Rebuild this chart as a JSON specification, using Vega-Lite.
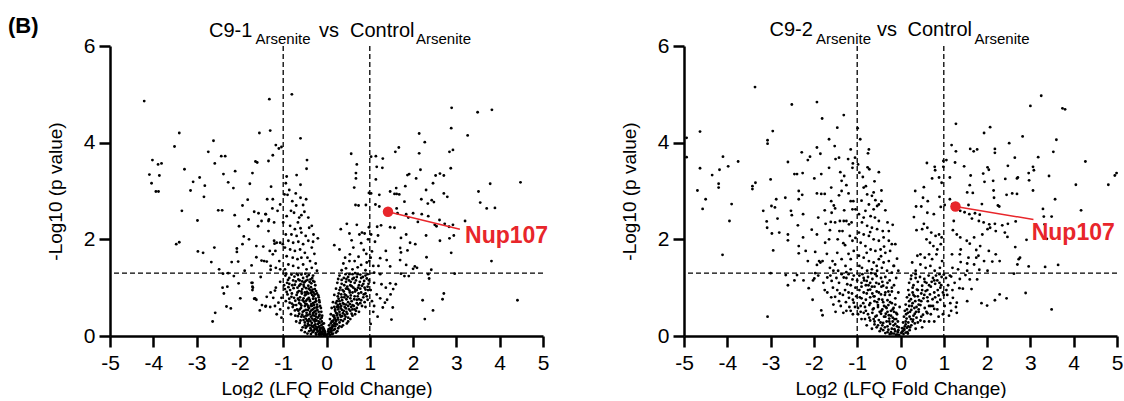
{
"$schema": "https://vega.github.io/schema/vega-lite/v6.json",
"padding": {"left": 8, "top": 14, "right": 0, "bottom": 0},
"background": "white",
"config": {
  "font": "Liberation Sans",
  "view": {"stroke": null},
  "axis": {"grid": false, "domainColor": "black", "domainWidth": 2.5, "tickColor": "black", "tickWidth": 2.5, "tickSize": 11, "labelColor": "black", "titleColor": "black", "labelFont": "Liberation Sans", "titleFont": "Liberation Sans", "labelFontSize": 21, "titleFontSize": 19, "titleFontWeight": "normal", "labelOverlap": false, "labelFlush": false},
  "axisX": {"labelPadding": 5, "titlePadding": 6},
  "axisY": {"labelPadding": 4, "titlePadding": 18}
},
"datasets": {
"hl1": [{"gene": "Nup107", "x": 1.42, "y": 2.57}],
"hl2": [{"gene": "Nup107", "x": 1.27, "y": 2.68}],
"c91": [
{"x":-4.21,"y":4.86},{"x":-1.32,"y":4.9},{"x":-0.8,"y":5.0},{"x":-3.4,"y":4.2},{"x":-1.3,"y":4.25},{"x":-1.55,"y":4.2},{"x":-0.6,"y":4.09},{"x":-3.51,"y":3.92},{"x":-2.61,"y":4.04},{"x":-2.73,"y":3.81},{"x":-1.17,"y":3.95},{"x":-1.1,"y":3.88},{"x":-1.04,"y":3.91},{"x":-1.24,"y":3.74},{"x":-4.02,"y":3.64},{"x":-3.89,"y":3.55},{"x":-3.81,"y":3.57},{"x":-4.09,"y":3.34},{"x":-3.86,"y":3.32},{"x":-4.04,"y":3.16},{"x":-3.94,"y":2.99},{"x":-3.88,"y":2.99},{"x":-3.28,"y":3.45},{"x":-2.43,"y":3.72},{"x":-2.34,"y":3.72},{"x":-2.58,"y":3.57},{"x":-2.38,"y":3.35},{"x":-2.93,"y":3.28},{"x":-3.08,"y":3.19},{"x":-2.81,"y":3.11},{"x":-3.14,"y":3.01},{"x":-2.83,"y":2.88},{"x":-2.27,"y":3.18},{"x":-2.15,"y":3.06},{"x":-2.11,"y":3.41},{"x":-1.64,"y":3.61},{"x":-1.6,"y":3.59},{"x":-1.34,"y":3.62},{"x":-1.71,"y":3.37},{"x":-1.77,"y":3.15},{"x":-1.28,"y":3.09},{"x":-0.69,"y":3.33},{"x":-0.46,"y":3.46},{"x":-0.45,"y":3.64},{"x":-0.6,"y":3.13},{"x":-0.94,"y":3.16},{"x":-3.34,"y":2.59},{"x":-2.5,"y":2.6},{"x":-2.41,"y":2.6},{"x":-2.98,"y":2.39},{"x":-3.47,"y":1.9},{"x":-3.4,"y":1.94},{"x":-2.97,"y":1.75},{"x":-2.85,"y":1.72},{"x":-2.66,"y":1.53},{"x":-2.59,"y":1.83},{"x":-2.12,"y":2.5},{"x":-1.94,"y":2.7},{"x":-1.82,"y":2.82},{"x":-2.02,"y":2.27},{"x":-1.91,"y":2.06},{"x":-1.8,"y":2.41},{"x":-1.79,"y":2.0},{"x":-1.67,"y":2.57},{"x":-1.57,"y":2.54},{"x":-1.4,"y":2.52},{"x":-1.34,"y":2.38},{"x":-1.58,"y":2.27},{"x":-1.34,"y":2.17},{"x":-1.62,"y":1.86},{"x":-1.46,"y":1.85},{"x":-2.07,"y":1.81},{"x":-2.07,"y":1.74},{"x":-1.94,"y":1.9},{"x":-2.19,"y":1.53},{"x":-2.04,"y":1.54},{"x":-1.89,"y":1.35},{"x":-1.73,"y":1.46},{"x":-1.62,"y":1.63},{"x":-1.5,"y":1.56},{"x":-1.52,"y":1.22},{"x":-2.48,"y":1.38},{"x":-2.39,"y":1.29},{"x":-2.27,"y":1.3},{"x":-2.14,"y":1.24},{"x":-2.4,"y":1.0},{"x":-2.37,"y":0.88},{"x":-2.29,"y":1.02},{"x":-2.03,"y":1.09},{"x":-1.71,"y":1.1},{"x":-1.71,"y":1.02},{"x":-1.71,"y":0.95},{"x":-1.99,"y":0.78},{"x":-1.67,"y":0.77},{"x":-1.62,"y":0.75},{"x":-2.31,"y":0.61},{"x":-2.21,"y":0.57},{"x":-2.57,"y":0.48},{"x":-2.63,"y":0.3},{"x":-1.54,"y":0.53},{"x":-1.41,"y":0.61},{"x":-1.3,"y":0.6},{"x":-1.38,"y":0.81},{"x":-1.19,"y":0.94},{"x":-1.24,"y":1.69},{"x":-1.2,"y":1.91},{"x":-1.15,"y":1.93},{"x":-1.07,"y":1.93},{"x":-1.01,"y":1.9},{"x":-1.29,"y":1.37},{"x":-1.38,"y":1.54},
{"x":-1.37,"y":2.83},{"x":-1.24,"y":2.83},{"x":-1.07,"y":2.72},{"x":-1.25,"y":2.64},{"x":-1.13,"y":2.59},{"x":-1.41,"y":2.52},{"x":-1.33,"y":2.41},{"x":-1.21,"y":2.35},{"x":-1.5,"y":2.38},{"x":-1.21,"y":1.97},{"x":-1.31,"y":1.76},{"x":-1.18,"y":1.76},{"x":-1.09,"y":1.55},{"x":-1.44,"y":1.55},{"x":-1.29,"y":1.45},{"x":-1.17,"y":1.41},{"x":-1.07,"y":1.38},{"x":-1.07,"y":1.12},{"x":-1.17,"y":1.0},{"x":-1.29,"y":0.9},{"x":-1.23,"y":0.79},{"x":-1.11,"y":0.69},{"x":-1.04,"y":0.79},{"x":-1.19,"y":0.62},{"x":-1.07,"y":0.55},{"x":-1.15,"y":0.45},{"x":-1.04,"y":0.38},{"x":-1.49,"y":0.64},{"x":-1.4,"y":0.62},{"x":-1.65,"y":0.78},{"x":-1.7,"y":1.0},{"x":-1.73,"y":1.1},
{"x":-0.97,"y":2.93},{"x":-0.9,"y":2.92},{"x":-0.79,"y":2.79},{"x":-0.71,"y":2.95},{"x":-0.6,"y":2.86},{"x":-0.47,"y":2.83},{"x":-0.54,"y":2.71},{"x":-0.51,"y":2.57},{"x":-0.82,"y":2.59},{"x":-0.75,"y":2.55},{"x":-0.92,"y":2.48},{"x":-0.63,"y":2.45},{"x":-0.42,"y":2.45},{"x":-1.0,"y":2.35},{"x":-0.84,"y":2.28},{"x":-0.73,"y":2.21},{"x":-0.6,"y":2.23},{"x":-0.4,"y":2.24},{"x":-0.34,"y":2.28},{"x":-0.94,"y":2.1},{"x":-0.81,"y":2.1},{"x":-0.69,"y":2.07},{"x":-0.58,"y":2.14},{"x":-0.48,"y":2.07},{"x":-0.3,"y":2.1},{"x":-0.88,"y":1.97},{"x":-0.77,"y":1.93},{"x":-0.65,"y":1.95},{"x":-0.54,"y":1.9},{"x":-0.42,"y":1.97},{"x":-0.34,"y":1.83},{"x":-0.96,"y":1.83},{"x":-0.84,"y":1.79},{"x":-0.73,"y":1.76},{"x":-0.61,"y":1.79},{"x":-0.5,"y":1.72},{"x":-0.44,"y":1.62},{"x":-0.92,"y":1.65},{"x":-0.78,"y":1.62},{"x":-0.67,"y":1.59},{"x":-0.58,"y":1.62},{"x":-0.38,"y":1.55},{"x":-0.88,"y":1.48},{"x":-0.77,"y":1.45},{"x":-0.65,"y":1.41},{"x":-0.54,"y":1.48},{"x":-0.46,"y":1.38},{"x":-0.34,"y":1.41},{"x":-0.96,"y":1.38},{"x":-0.92,"y":3.3},{"x":-0.86,"y":3.02},{"x":-0.7,"y":2.7},{"x":-0.58,"y":2.5},{"x":-0.66,"y":2.35},{"x":-0.28,"y":1.7},{"x":-0.25,"y":1.5},{"x":-0.22,"y":1.35},{"x":-0.31,"y":1.95},{"x":-0.2,"y":2.02},
{"x":-0.95,"y":1.25},{"x":-0.86,"y":1.2},{"x":-0.74,"y":1.23},{"x":-0.66,"y":1.26},{"x":-0.54,"y":1.2},{"x":-0.45,"y":1.23},{"x":-0.37,"y":1.17},{"x":-0.91,"y":1.1},{"x":-0.79,"y":1.05},{"x":-0.71,"y":1.13},{"x":-0.6,"y":1.07},{"x":-0.51,"y":1.11},{"x":-0.42,"y":1.04},{"x":-0.35,"y":1.09},{"x":-0.96,"y":0.97},{"x":-0.84,"y":0.95},{"x":-0.76,"y":0.99},{"x":-0.64,"y":0.93},{"x":-0.56,"y":0.97},{"x":-0.45,"y":0.91},{"x":-0.38,"y":0.95},{"x":-0.3,"y":0.9},{"x":-0.9,"y":0.86},{"x":-0.81,"y":0.81},{"x":-0.69,"y":0.85},{"x":-0.61,"y":0.8},{"x":-0.5,"y":0.84},{"x":-0.41,"y":0.79},{"x":-0.33,"y":0.85},{"x":-0.25,"y":0.77},{"x":-0.94,"y":0.72},{"x":-0.85,"y":0.69},{"x":-0.72,"y":0.73},{"x":-0.63,"y":0.68},{"x":-0.52,"y":0.71},{"x":-0.46,"y":0.66},{"x":-0.38,"y":0.72},{"x":-0.31,"y":0.68},{"x":-0.22,"y":0.65},{"x":-0.88,"y":0.58},{"x":-0.78,"y":0.6},{"x":-0.68,"y":0.55},{"x":-0.59,"y":0.58},{"x":-0.48,"y":0.54},{"x":-0.4,"y":0.58},{"x":-0.32,"y":0.55},{"x":-0.25,"y":0.52},{"x":-0.18,"y":0.5},{"x":-0.82,"y":0.45},{"x":-0.72,"y":0.42},{"x":-0.63,"y":0.46},{"x":-0.52,"y":0.4},{"x":-0.44,"y":0.43},{"x":-0.36,"y":0.4},{"x":-0.28,"y":0.42},{"x":-0.2,"y":0.38},{"x":-0.14,"y":0.35},{"x":-0.7,"y":0.3},{"x":-0.6,"y":0.32},{"x":-0.5,"y":0.28},{"x":-0.42,"y":0.3},{"x":-0.34,"y":0.27},{"x":-0.27,"y":0.3},{"x":-0.2,"y":0.25},{"x":-0.12,"y":0.22},{"x":-0.08,"y":0.18},{"x":-0.55,"y":0.18},{"x":-0.45,"y":0.2},{"x":-0.37,"y":0.16},{"x":-0.3,"y":0.18},{"x":-0.22,"y":0.14},{"x":-0.15,"y":0.12},{"x":-0.1,"y":0.08},{"x":-0.05,"y":0.05},{"x":-0.4,"y":0.1},{"x":-0.32,"y":0.08},{"x":-0.25,"y":0.06},{"x":-0.18,"y":0.04},{"x":-0.12,"y":0.03},{"x":-0.06,"y":0.02},
{"x":-0.62,"y":1.15},{"x":-0.48,"y":1.14},{"x":-0.33,"y":1.2},{"x":-0.28,"y":1.12},{"x":-0.86,"y":1.08},{"x":-0.67,"y":1.0},{"x":-0.52,"y":1.02},{"x":-0.41,"y":0.98},{"x":-0.27,"y":0.97},{"x":-0.22,"y":0.88},{"x":-0.57,"y":0.88},{"x":-0.47,"y":0.86},{"x":-0.36,"y":0.89},{"x":-0.3,"y":0.82},{"x":-0.18,"y":0.8},{"x":-0.66,"y":0.77},{"x":-0.55,"y":0.74},{"x":-0.44,"y":0.76},{"x":-0.35,"y":0.66},{"x":-0.27,"y":0.7},{"x":-0.16,"y":0.7},{"x":-0.76,"y":0.64},{"x":-0.58,"y":0.63},{"x":-0.5,"y":0.62},{"x":-0.42,"y":0.6},{"x":-0.34,"y":0.62},{"x":-0.28,"y":0.58},{"x":-0.21,"y":0.6},{"x":-0.13,"y":0.58},{"x":-0.65,"y":0.52},{"x":-0.55,"y":0.5},{"x":-0.46,"y":0.48},{"x":-0.38,"y":0.5},{"x":-0.31,"y":0.47},{"x":-0.24,"y":0.46},{"x":-0.16,"y":0.44},{"x":-0.1,"y":0.42},{"x":-0.58,"y":0.4},{"x":-0.48,"y":0.36},{"x":-0.4,"y":0.35},{"x":-0.33,"y":0.36},{"x":-0.26,"y":0.35},{"x":-0.18,"y":0.3},{"x":-0.11,"y":0.3},{"x":-0.06,"y":0.26},{"x":-0.5,"y":0.22},{"x":-0.43,"y":0.25},{"x":-0.35,"y":0.22},{"x":-0.28,"y":0.22},{"x":-0.24,"y":0.19},{"x":-0.17,"y":0.2},{"x":-0.14,"y":0.16},{"x":-0.08,"y":0.13},{"x":-0.04,"y":0.1},{"x":-0.44,"y":0.05},{"x":-0.36,"y":0.04},{"x":-0.29,"y":0.11},{"x":-0.2,"y":0.09},{"x":-0.15,"y":0.06},{"x":-0.09,"y":0.05},{"x":-0.02,"y":0.01},
{"x":-0.93,"y":1.29},{"x":-0.81,"y":1.27},{"x":-0.69,"y":1.29},{"x":-0.58,"y":1.27},{"x":-0.49,"y":1.29},{"x":-0.41,"y":1.26},{"x":-0.31,"y":1.25},{"x":-0.89,"y":1.16},{"x":-0.77,"y":1.15},{"x":-0.65,"y":1.17},{"x":-0.56,"y":1.13},{"x":-0.44,"y":1.16},{"x":-0.39,"y":1.12},{"x":-0.31,"y":1.14},{"x":-0.26,"y":1.05},{"x":-0.98,"y":1.05},{"x":-0.88,"y":1.01},{"x":-0.73,"y":1.06},{"x":-0.63,"y":1.04},{"x":-0.53,"y":1.06},{"x":-0.47,"y":0.99},{"x":-0.36,"y":1.01},{"x":-0.32,"y":0.96},{"x":-0.24,"y":0.93},{"x":-0.92,"y":0.91},{"x":-0.8,"y":0.88},{"x":-0.67,"y":0.9},{"x":-0.58,"y":0.92},{"x":-0.5,"y":0.9},{"x":-0.42,"y":0.88},{"x":-0.34,"y":0.92},{"x":-0.27,"y":0.86},{"x":-0.19,"y":0.84},{"x":-0.86,"y":0.77},{"x":-0.75,"y":0.79},{"x":-0.63,"y":0.74},{"x":-0.53,"y":0.78},{"x":-0.47,"y":0.73},{"x":-0.39,"y":0.75},{"x":-0.31,"y":0.77},{"x":-0.24,"y":0.72},{"x":-0.17,"y":0.74},{"x":-0.8,"y":0.67},{"x":-0.7,"y":0.64},{"x":-0.6,"y":0.66},{"x":-0.49,"y":0.67},{"x":-0.43,"y":0.63},{"x":-0.36,"y":0.63},{"x":-0.29,"y":0.64},{"x":-0.23,"y":0.59},{"x":-0.15,"y":0.62},{"x":-0.73,"y":0.53},{"x":-0.62,"y":0.55},{"x":-0.52,"y":0.52},{"x":-0.43,"y":0.54},{"x":-0.35,"y":0.53},{"x":-0.28,"y":0.5},{"x":-0.21,"y":0.54},{"x":-0.12,"y":0.5},{"x":-0.66,"y":0.41},{"x":-0.56,"y":0.44},{"x":-0.47,"y":0.42},{"x":-0.39,"y":0.45},{"x":-0.32,"y":0.43},{"x":-0.24,"y":0.4},{"x":-0.17,"y":0.41},{"x":-0.11,"y":0.38},{"x":-0.62,"y":0.27},{"x":-0.53,"y":0.33},{"x":-0.45,"y":0.32},{"x":-0.37,"y":0.31},{"x":-0.3,"y":0.33},{"x":-0.23,"y":0.32},{"x":-0.16,"y":0.27},{"x":-0.09,"y":0.25},{"x":-0.48,"y":0.17},{"x":-0.4,"y":0.22},{"x":-0.33,"y":0.2},{"x":-0.26,"y":0.24},{"x":-0.19,"y":0.18},{"x":-0.12,"y":0.16},{"x":-0.06,"y":0.14},{"x":-0.35,"y":0.12},{"x":-0.27,"y":0.14},{"x":-0.21,"y":0.11},{"x":-0.14,"y":0.09},{"x":-0.08,"y":0.1},{"x":-0.03,"y":0.06},{"x":-0.24,"y":0.03},{"x":-0.16,"y":0.02},{"x":-0.1,"y":0.04},{"x":-0.04,"y":0.03},{"x":-0.5,"y":0.08},{"x":-0.58,"y":0.12},
{"x":2.89,"y":4.72},{"x":3.49,"y":4.63},{"x":3.82,"y":4.68},{"x":2.88,"y":4.3},{"x":3.26,"y":4.15},{"x":2.14,"y":4.19},{"x":2.27,"y":4.01},{"x":1.67,"y":3.9},{"x":1.59,"y":3.81},{"x":2.14,"y":3.78},{"x":2.84,"y":3.81},{"x":2.92,"y":3.85},{"x":1.03,"y":3.71},{"x":1.14,"y":3.72},{"x":1.3,"y":3.67},{"x":1.16,"y":3.5},{"x":1.29,"y":3.48},{"x":2.17,"y":3.44},{"x":2.87,"y":3.47},{"x":1.14,"y":3.24},{"x":1.87,"y":3.33},{"x":1.91,"y":3.35},{"x":2.07,"y":3.26},{"x":2.52,"y":3.32},{"x":2.62,"y":3.36},{"x":2.71,"y":3.32},{"x":1.82,"y":3.1},{"x":1.61,"y":3.06},{"x":1.57,"y":2.94},{"x":1.62,"y":2.94},{"x":1.68,"y":2.93},{"x":1.47,"y":2.99},{"x":1.22,"y":2.92},{"x":1.03,"y":2.95},{"x":2.46,"y":3.16},{"x":2.3,"y":3.02},{"x":2.19,"y":2.83},{"x":2.34,"y":2.74},{"x":2.43,"y":2.81},{"x":2.48,"y":2.77},{"x":2.71,"y":2.95},{"x":2.79,"y":2.88},{"x":3.78,"y":3.15},{"x":4.48,"y":3.18},{"x":3.51,"y":2.99},{"x":3.55,"y":2.76},{"x":3.7,"y":2.64},{"x":3.89,"y":2.65},{"x":1.13,"y":2.72},{"x":1.22,"y":2.68},{"x":1.62,"y":2.64},{"x":1.8,"y":2.78},{"x":1.64,"y":2.54},{"x":1.84,"y":2.52},{"x":1.89,"y":2.45},{"x":2.0,"y":2.54},{"x":2.11,"y":2.36},{"x":2.2,"y":2.52},{"x":2.35,"y":2.48},{"x":2.5,"y":2.3},{"x":2.54,"y":2.27},{"x":2.61,"y":2.4},{"x":2.73,"y":2.32},{"x":2.83,"y":2.26},{"x":2.92,"y":2.3},{"x":3.2,"y":2.38},{"x":2.62,"y":1.97},{"x":2.84,"y":2.02},{"x":2.94,"y":2.08},{"x":2.3,"y":2.08},{"x":2.88,"y":1.72},{"x":3.81,"y":1.55},{"x":1.47,"y":2.25},{"x":1.57,"y":2.24},{"x":1.17,"y":2.26},{"x":1.26,"y":2.29},{"x":1.19,"y":2.08},{"x":1.72,"y":2.03},{"x":1.84,"y":2.1},{"x":1.93,"y":1.93},{"x":2.05,"y":1.9},{"x":1.7,"y":1.82},{"x":1.72,"y":1.73},{"x":1.87,"y":1.77},{"x":1.37,"y":1.76},{"x":1.24,"y":1.61},{"x":1.02,"y":1.62},{"x":1.39,"y":1.57},{"x":1.7,"y":1.57},{"x":2.31,"y":1.63},{"x":1.47,"y":1.44},{"x":1.84,"y":1.47},{"x":2.04,"y":1.44},{"x":2.0,"y":1.39},{"x":2.09,"y":1.41},{"x":1.72,"y":1.29},{"x":1.8,"y":1.24},{"x":1.9,"y":1.24},{"x":2.35,"y":1.28},{"x":2.37,"y":1.19},{"x":2.42,"y":1.37},{"x":2.96,"y":1.29},{"x":1.1,"y":1.31},{"x":1.24,"y":1.28},{"x":1.1,"y":1.1},{"x":1.16,"y":0.86},{"x":1.27,"y":1.07},{"x":1.37,"y":1.0},{"x":1.47,"y":1.09},{"x":1.54,"y":0.97},{"x":1.6,"y":1.07},{"x":1.24,"y":0.78},{"x":1.35,"y":0.69},{"x":1.4,"y":0.75},{"x":1.48,"y":0.86},{"x":1.3,"y":0.59},{"x":1.53,"y":0.59},{"x":1.08,"y":0.5},{"x":1.5,"y":0.34},{"x":2.22,"y":0.74},{"x":2.46,"y":0.53},{"x":2.27,"y":0.35},{"x":2.68,"y":0.76},{"x":2.71,"y":0.88},{"x":4.41,"y":0.74},{"x":1.05,"y":1.75},{"x":1.12,"y":1.95},{"x":1.03,"y":2.1},{"x":1.2,"y":1.45},{"x":1.08,"y":1.45},{"x":1.02,"y":0.95},{"x":1.05,"y":0.72},{"x":1.1,"y":0.62},{"x":1.18,"y":0.4},{"x":1.02,"y":0.25},
{"x":0.57,"y":3.77},{"x":0.7,"y":3.55},{"x":0.68,"y":3.37},{"x":0.68,"y":3.26},{"x":0.64,"y":3.07},{"x":0.67,"y":2.71},{"x":0.74,"y":2.7},{"x":0.91,"y":2.71},{"x":0.98,"y":2.96},{"x":0.47,"y":2.32},{"x":0.7,"y":2.3},{"x":0.33,"y":2.21},{"x":0.53,"y":2.12},{"x":0.82,"y":2.14},{"x":0.88,"y":2.12},{"x":0.76,"y":2.1},{"x":0.18,"y":1.88},{"x":0.3,"y":1.79},{"x":0.58,"y":1.98},{"x":0.62,"y":1.83},{"x":0.8,"y":1.92},{"x":0.86,"y":1.78},{"x":0.43,"y":1.62},{"x":0.54,"y":1.69},{"x":0.53,"y":1.55},{"x":0.65,"y":1.55},{"x":0.74,"y":1.64},{"x":0.39,"y":1.5},{"x":0.8,"y":1.47},{"x":0.93,"y":1.52},{"x":0.99,"y":1.55},{"x":0.45,"y":1.4},{"x":0.6,"y":1.38},{"x":0.72,"y":1.42},{"x":0.9,"y":1.36},{"x":0.35,"y":1.36},{"x":0.92,"y":1.7},{"x":0.96,"y":2.0},{"x":0.98,"y":2.25},
{"x":0.3,"y":1.25},{"x":0.4,"y":1.2},{"x":0.5,"y":1.22},{"x":0.6,"y":1.18},{"x":0.7,"y":1.22},{"x":0.8,"y":1.2},{"x":0.9,"y":1.25},{"x":0.98,"y":1.15},{"x":0.25,"y":1.1},{"x":0.35,"y":1.08},{"x":0.45,"y":1.12},{"x":0.55,"y":1.05},{"x":0.65,"y":1.1},{"x":0.75,"y":1.05},{"x":0.85,"y":1.08},{"x":0.95,"y":1.02},{"x":0.22,"y":0.98},{"x":0.3,"y":0.95},{"x":0.4,"y":0.92},{"x":0.5,"y":0.97},{"x":0.6,"y":0.9},{"x":0.7,"y":0.95},{"x":0.8,"y":0.9},{"x":0.9,"y":0.88},{"x":0.18,"y":0.85},{"x":0.26,"y":0.82},{"x":0.35,"y":0.8},{"x":0.45,"y":0.84},{"x":0.55,"y":0.78},{"x":0.65,"y":0.82},{"x":0.75,"y":0.76},{"x":0.85,"y":0.8},{"x":0.95,"y":0.75},{"x":0.15,"y":0.7},{"x":0.22,"y":0.68},{"x":0.3,"y":0.72},{"x":0.4,"y":0.66},{"x":0.5,"y":0.7},{"x":0.6,"y":0.64},{"x":0.7,"y":0.68},{"x":0.82,"y":0.62},{"x":0.12,"y":0.58},{"x":0.2,"y":0.55},{"x":0.28,"y":0.6},{"x":0.36,"y":0.54},{"x":0.45,"y":0.57},{"x":0.55,"y":0.52},{"x":0.65,"y":0.55},{"x":0.75,"y":0.5},{"x":0.1,"y":0.45},{"x":0.17,"y":0.42},{"x":0.25,"y":0.46},{"x":0.33,"y":0.4},{"x":0.42,"y":0.44},{"x":0.5,"y":0.38},{"x":0.6,"y":0.42},{"x":0.08,"y":0.35},{"x":0.14,"y":0.3},{"x":0.22,"y":0.33},{"x":0.3,"y":0.28},{"x":0.38,"y":0.31},{"x":0.47,"y":0.26},{"x":0.06,"y":0.22},{"x":0.12,"y":0.18},{"x":0.2,"y":0.2},{"x":0.27,"y":0.16},{"x":0.35,"y":0.19},{"x":0.04,"y":0.1},{"x":0.1,"y":0.08},{"x":0.16,"y":0.12},{"x":0.22,"y":0.07},{"x":0.02,"y":0.03},{"x":0.08,"y":0.02},{"x":0.13,"y":0.04},
{"x":0.06,"y":0.06},{"x":0.11,"y":0.1},{"x":0.15,"y":0.05},{"x":0.19,"y":0.14},{"x":0.25,"y":0.1},{"x":0.09,"y":0.16},{"x":0.14,"y":0.22},{"x":0.18,"y":0.26},{"x":0.24,"y":0.24},{"x":0.3,"y":0.2},{"x":0.38,"y":0.22},{"x":0.12,"y":0.3},{"x":0.19,"y":0.36},{"x":0.26,"y":0.38},{"x":0.33,"y":0.33},{"x":0.42,"y":0.35},{"x":0.5,"y":0.3},{"x":0.55,"y":0.35},{"x":0.15,"y":0.42},{"x":0.22,"y":0.48},{"x":0.3,"y":0.5},{"x":0.38,"y":0.47},{"x":0.46,"y":0.5},{"x":0.58,"y":0.46},{"x":0.66,"y":0.45},{"x":0.7,"y":0.58},{"x":0.18,"y":0.6},{"x":0.26,"y":0.64},{"x":0.34,"y":0.62},{"x":0.42,"y":0.6},{"x":0.5,"y":0.62},{"x":0.6,"y":0.55},{"x":0.78,"y":0.68},{"x":0.88,"y":0.7},{"x":0.24,"y":0.72},{"x":0.36,"y":0.74},{"x":0.46,"y":0.76},{"x":0.58,"y":0.72},{"x":0.7,"y":0.75},{"x":0.9,"y":0.6},{"x":0.28,"y":0.88},{"x":0.42,"y":0.86},{"x":0.54,"y":0.9},{"x":0.66,"y":0.92},{"x":0.74,"y":0.88},{"x":0.96,"y":0.95},{"x":0.32,"y":1.0},{"x":0.48,"y":1.02},{"x":0.62,"y":1.0},{"x":0.78,"y":0.98},{"x":0.88,"y":1.0},{"x":0.35,"y":1.16},{"x":0.52,"y":1.15},{"x":0.68,"y":1.15},{"x":0.84,"y":1.22},{"x":0.72,"y":1.28},{"x":0.6,"y":1.28},
{"x":0.03,"y":0.05},{"x":0.07,"y":0.09},{"x":0.1,"y":0.13},{"x":0.05,"y":0.14},{"x":0.13,"y":0.17},{"x":0.16,"y":0.21},{"x":0.2,"y":0.25},{"x":0.1,"y":0.26},{"x":0.16,"y":0.32},{"x":0.22,"y":0.3},{"x":0.27,"y":0.34},{"x":0.18,"y":0.39},{"x":0.24,"y":0.43},{"x":0.31,"y":0.44},{"x":0.36,"y":0.41},{"x":0.2,"y":0.52},{"x":0.27,"y":0.55},{"x":0.33,"y":0.57},{"x":0.4,"y":0.52},{"x":0.48,"y":0.46},{"x":0.44,"y":0.4},{"x":0.52,"y":0.55},{"x":0.57,"y":0.6},{"x":0.24,"y":0.6},{"x":0.31,"y":0.66},{"x":0.38,"y":0.68},{"x":0.45,"y":0.65},{"x":0.54,"y":0.66},{"x":0.63,"y":0.62},{"x":0.68,"y":0.52},{"x":0.73,"y":0.65},{"x":0.28,"y":0.77},{"x":0.34,"y":0.86},{"x":0.41,"y":0.8},{"x":0.49,"y":0.81},{"x":0.56,"y":0.84},{"x":0.64,"y":0.76},{"x":0.72,"y":0.82},{"x":0.8,"y":0.74},{"x":0.86,"y":0.86},{"x":0.93,"y":0.82},{"x":0.37,"y":0.95},{"x":0.45,"y":0.98},{"x":0.53,"y":0.94},{"x":0.58,"y":1.03},{"x":0.66,"y":0.97},{"x":0.73,"y":1.0},{"x":0.82,"y":1.04},{"x":0.9,"y":0.96},{"x":0.97,"y":1.08},{"x":0.27,"y":1.18},{"x":0.41,"y":1.05},{"x":0.46,"y":1.18},{"x":0.56,"y":1.12},{"x":0.63,"y":1.2},{"x":0.77,"y":1.12},{"x":0.87,"y":1.14},{"x":0.93,"y":1.19},{"x":0.44,"y":1.28},{"x":0.53,"y":1.28},{"x":0.66,"y":1.3},{"x":0.78,"y":1.27},{"x":0.95,"y":1.28}
],
"c92": [
{"x":-4.94,"y":4.1},{"x":-4.94,"y":3.7},{"x":-4.63,"y":4.23},{"x":-4.63,"y":3.47},{"x":-4.69,"y":3.01},{"x":-4.57,"y":2.63},{"x":-4.5,"y":2.83},{"x":-4.35,"y":3.33},{"x":-4.18,"y":3.44},{"x":-4.2,"y":3.15},{"x":-4.2,"y":3.07},{"x":-4.1,"y":3.71},{"x":-3.98,"y":3.51},{"x":-3.9,"y":2.73},{"x":-3.95,"y":2.38},{"x":-4.11,"y":1.68},{"x":-3.75,"y":3.61},{"x":-3.36,"y":5.15},{"x":-3.42,"y":3.1},{"x":-3.42,"y":3.04},{"x":-3.35,"y":3.17},{"x":-3.17,"y":2.59},{"x":-3.09,"y":2.37},{"x":-3.08,"y":2.24},{"x":-3.07,"y":4.05},{"x":-3.07,"y":3.98},{"x":-2.95,"y":4.24},{"x":-3.0,"y":3.24},{"x":-2.98,"y":2.69},{"x":-2.9,"y":2.66},{"x":-2.87,"y":2.83},{"x":-2.97,"y":2.12},{"x":-2.94,"y":1.77},{"x":-3.0,"y":1.3},{"x":-3.07,"y":0.4},{"x":-2.84,"y":2.43},{"x":-2.8,"y":2.14},{"x":-2.66,"y":2.86},{"x":-2.6,"y":3.6},{"x":-2.6,"y":2.1},{"x":-2.6,"y":1.98},{"x":-2.65,"y":1.26},{"x":-2.6,"y":1.05},{"x":-2.51,"y":4.79},{"x":-2.53,"y":2.59},{"x":-2.51,"y":2.5},{"x":-2.45,"y":3.35},{"x":-2.39,"y":3.35},{"x":-2.28,"y":3.8},{"x":-2.26,"y":3.37},{"x":-2.35,"y":3.0},{"x":-2.35,"y":2.83},{"x":-2.27,"y":2.92},{"x":-2.37,"y":2.29},{"x":-2.25,"y":2.52},{"x":-2.25,"y":2.04},{"x":-2.35,"y":1.86},{"x":-2.35,"y":1.71},{"x":-2.19,"y":1.76},{"x":-2.39,"y":1.26},{"x":-2.45,"y":1.15},{"x":-2.24,"y":1.15},{"x":-2.14,"y":3.64},{"x":-2.09,"y":3.71},{"x":-1.93,"y":4.84},{"x":-1.81,"y":4.5},{"x":-1.99,"y":3.26},{"x":-1.93,"y":3.9},{"x":-1.85,"y":3.77},{"x":-1.83,"y":3.35},{"x":-1.93,"y":2.95},{"x":-1.83,"y":2.94},{"x":-1.75,"y":2.94},{"x":-2.05,"y":2.2},{"x":-1.93,"y":2.1},{"x":-2.14,"y":1.55},{"x":-1.97,"y":1.74},{"x":-1.93,"y":1.47},{"x":-1.88,"y":1.55},{"x":-1.85,"y":1.52},{"x":-1.8,"y":1.55},{"x":-1.74,"y":1.93},{"x":-1.97,"y":1.3},{"x":-2.12,"y":0.99},{"x":-2.02,"y":1.15},{"x":-1.99,"y":1.19},{"x":-2.03,"y":0.75},{"x":-1.83,"y":0.53},{"x":-1.8,"y":0.43},{"x":-1.65,"y":4.07},{"x":-1.52,"y":3.93},{"x":-1.65,"y":3.48},{"x":-1.5,"y":3.66},{"x":-1.46,"y":4.31},{"x":-1.31,"y":4.57},{"x":-1.42,"y":3.69},{"x":-1.39,"y":3.39},{"x":-1.3,"y":3.31},{"x":-1.36,"y":3.21},{"x":-1.25,"y":3.12},{"x":-1.21,"y":3.66},{"x":-1.15,"y":3.86},{"x":-1.1,"y":3.57},{"x":-1.11,"y":3.48},{"x":-1.05,"y":3.69},{"x":-1.6,"y":3.07},{"x":-1.6,"y":2.79},{"x":-1.54,"y":2.7},{"x":-1.51,"y":2.64},{"x":-1.42,"y":2.91},{"x":-1.36,"y":3.0},{"x":-1.59,"y":2.55},{"x":-1.61,"y":2.36},{"x":-1.73,"y":2.32},{"x":-1.51,"y":2.35},{"x":-1.4,"y":2.38},{"x":-1.31,"y":2.38},{"x":-1.25,"y":2.38},{"x":-1.19,"y":2.31},{"x":-1.13,"y":2.35},{"x":-1.63,"y":2.19},{"x":-1.41,"y":2.17},{"x":-1.34,"y":2.17},{"x":-1.15,"y":2.79},{"x":-1.09,"y":2.79},{"x":-1.11,"y":2.62},{"x":-1.04,"y":2.62},{"x":-1.32,"y":1.92},{"x":-1.28,"y":1.88},{"x":-1.46,"y":1.72},{"x":-1.36,"y":1.59},{"x":-1.57,"y":1.55},{"x":-1.63,"y":1.41},{"x":-1.51,"y":1.48},{"x":-1.44,"y":1.35},{"x":-1.27,"y":1.45},{"x":-1.15,"y":1.59},{"x":-1.08,"y":1.76},{"x":-1.11,"y":1.97},{"x":-1.17,"y":2.07},{"x":-1.04,"y":2.03},{"x":-1.69,"y":1.21},{"x":-1.59,"y":1.14},{"x":-1.56,"y":1.0},{"x":-1.42,"y":1.1},{"x":-1.31,"y":1.21},{"x":-1.23,"y":1.07},{"x":-1.11,"y":1.17},{"x":-1.04,"y":1.0},{"x":-1.69,"y":0.9},{"x":-1.51,"y":0.81},{"x":-1.42,"y":0.72},{"x":-1.33,"y":0.85},{"x":-1.19,"y":0.79},{"x":-1.08,"y":0.69},{"x":-1.5,"y":0.5},{"x":-1.32,"y":0.48},{"x":-1.15,"y":0.52},
{"x":-0.99,"y":4.3},{"x":-0.93,"y":4.07},{"x":-0.73,"y":3.86},{"x":-0.75,"y":3.78},{"x":-0.5,"y":3.39},{"x":-0.72,"y":3.45},{"x":-0.76,"y":3.49},{"x":-0.98,"y":3.55},{"x":-0.95,"y":3.38},{"x":-0.87,"y":3.29},{"x":-0.66,"y":2.9},{"x":-0.85,"y":3.07},{"x":-0.77,"y":2.93},{"x":-0.62,"y":2.97},{"x":-0.58,"y":2.81},{"x":-0.73,"y":2.72},{"x":-0.5,"y":2.72},{"x":-0.44,"y":3.01},{"x":-0.44,"y":2.79},{"x":-0.54,"y":2.69},{"x":-0.81,"y":2.59},{"x":-0.96,"y":2.52},{"x":-0.69,"y":2.48},{"x":-0.59,"y":2.45},{"x":-0.5,"y":2.38},{"x":-0.89,"y":2.35},{"x":-0.77,"y":2.28},{"x":-0.66,"y":2.24},{"x":-0.54,"y":2.21},{"x":-0.41,"y":2.17},{"x":-0.27,"y":2.17},{"x":-0.96,"y":2.14},{"x":-0.85,"y":2.1},{"x":-0.73,"y":2.07},{"x":-0.62,"y":2.0},{"x":-0.5,"y":1.97},{"x":-0.39,"y":2.04},{"x":-0.27,"y":1.97},{"x":-0.2,"y":1.9},{"x":-0.92,"y":1.93},{"x":-0.81,"y":1.86},{"x":-0.69,"y":1.79},{"x":-0.58,"y":1.76},{"x":-0.46,"y":1.79},{"x":-0.35,"y":1.72},{"x":-0.24,"y":1.76},{"x":-0.96,"y":1.66},{"x":-0.85,"y":1.62},{"x":-0.73,"y":1.55},{"x":-0.62,"y":1.52},{"x":-0.5,"y":1.59},{"x":-0.39,"y":1.52},{"x":-0.27,"y":1.55},{"x":-0.16,"y":1.45},{"x":-0.89,"y":1.41},{"x":-0.77,"y":1.35},{"x":-0.66,"y":1.38},{"x":-0.54,"y":1.35},{"x":-0.43,"y":1.41},{"x":-0.31,"y":1.35},{"x":-0.2,"y":1.31},{"x":-0.18,"y":2.3},{"x":-0.12,"y":1.9},{"x":-0.08,"y":1.6},{"x":-0.15,"y":1.45},{"x":-0.05,"y":1.35},
{"x":-0.9,"y":2.8},{"x":-0.8,"y":3.1},{"x":-0.6,"y":3.2},{"x":-0.35,"y":2.6},{"x":-0.3,"y":2.35},{"x":-0.38,"y":1.85},{"x":-0.62,"y":2.62},{"x":-0.85,"y":2.45},{"x":-0.7,"y":2.15},{"x":-0.45,"y":1.65},{"x":-0.78,"y":1.72},{"x":-0.55,"y":1.45},{"x":-0.95,"y":1.45},{"x":-1.2,"y":1.7},{"x":-1.45,"y":2.0},{"x":-1.7,"y":1.7},{"x":-1.55,"y":1.35},{"x":-1.25,"y":1.32},{"x":-1.75,"y":2.6},{"x":-1.3,"y":2.6},{"x":-1.2,"y":2.95},{"x":-1.9,"y":2.45},{"x":-1.65,"y":2.0},{"x":-1.15,"y":1.38},
{"x":-0.95,"y":1.25},{"x":-0.85,"y":1.2},{"x":-0.75,"y":1.22},{"x":-0.65,"y":1.18},{"x":-0.55,"y":1.24},{"x":-0.45,"y":1.2},{"x":-0.35,"y":1.22},{"x":-0.25,"y":1.15},{"x":-0.9,"y":1.1},{"x":-0.8,"y":1.05},{"x":-0.7,"y":1.1},{"x":-0.6,"y":1.02},{"x":-0.5,"y":1.08},{"x":-0.4,"y":1.04},{"x":-0.3,"y":1.1},{"x":-0.2,"y":1.0},{"x":-0.95,"y":0.95},{"x":-0.85,"y":0.9},{"x":-0.75,"y":0.95},{"x":-0.65,"y":0.88},{"x":-0.55,"y":0.92},{"x":-0.45,"y":0.86},{"x":-0.35,"y":0.9},{"x":-0.25,"y":0.85},{"x":-0.9,"y":0.78},{"x":-0.8,"y":0.75},{"x":-0.7,"y":0.8},{"x":-0.6,"y":0.72},{"x":-0.5,"y":0.76},{"x":-0.4,"y":0.7},{"x":-0.3,"y":0.74},{"x":-0.2,"y":0.68},{"x":-0.12,"y":0.65},{"x":-0.92,"y":0.62},{"x":-0.82,"y":0.6},{"x":-0.72,"y":0.64},{"x":-0.62,"y":0.57},{"x":-0.52,"y":0.6},{"x":-0.42,"y":0.55},{"x":-0.32,"y":0.58},{"x":-0.22,"y":0.52},{"x":-0.15,"y":0.5},{"x":-0.85,"y":0.48},{"x":-0.75,"y":0.45},{"x":-0.65,"y":0.48},{"x":-0.55,"y":0.42},{"x":-0.45,"y":0.46},{"x":-0.35,"y":0.4},{"x":-0.27,"y":0.43},{"x":-0.18,"y":0.38},{"x":-0.1,"y":0.35},{"x":-0.7,"y":0.32},{"x":-0.6,"y":0.3},{"x":-0.5,"y":0.33},{"x":-0.4,"y":0.27},{"x":-0.32,"y":0.3},{"x":-0.24,"y":0.25},{"x":-0.16,"y":0.22},{"x":-0.08,"y":0.2},{"x":-0.55,"y":0.18},{"x":-0.45,"y":0.15},{"x":-0.36,"y":0.18},{"x":-0.28,"y":0.13},{"x":-0.2,"y":0.15},{"x":-0.12,"y":0.1},{"x":-0.06,"y":0.08},{"x":-0.35,"y":0.06},{"x":-0.25,"y":0.04},{"x":-0.15,"y":0.05},{"x":-0.08,"y":0.03},{"x":-0.03,"y":0.02},
{"x":-1.25,"y":1.2},{"x":-1.15,"y":1.05},{"x":-1.2,"y":0.9},{"x":-1.1,"y":0.75},{"x":-1.05,"y":0.6},{"x":-0.98,"y":0.45},{"x":-0.9,"y":0.35},{"x":-0.78,"y":0.22},{"x":-0.66,"y":0.15},{"x":-0.6,"y":0.24},{"x":-0.48,"y":0.1},{"x":-0.42,"y":0.22},{"x":-0.3,"y":0.2},{"x":-0.22,"y":0.08},{"x":-0.14,"y":0.14},{"x":-0.1,"y":0.02},{"x":-0.05,"y":0.12},{"x":-0.18,"y":0.3},{"x":-0.26,"y":0.36},{"x":-0.34,"y":0.46},{"x":-0.44,"y":0.52},{"x":-0.52,"y":0.64},{"x":-0.6,"y":0.82},{"x":-0.7,"y":0.96},{"x":-0.78,"y":1.14},{"x":-0.88,"y":1.28},{"x":-0.38,"y":0.62},{"x":-0.28,"y":0.64},{"x":-0.16,"y":0.58},{"x":-0.08,"y":0.45},{"x":-0.12,"y":0.78},{"x":-0.2,"y":0.92},{"x":-0.32,"y":1.0},{"x":-0.42,"y":1.12},{"x":-0.58,"y":1.28},{"x":-0.68,"y":1.3},{"x":-0.1,"y":1.2},{"x":-0.15,"y":1.05},{"x":-0.05,"y":0.9},{"x":-0.02,"y":0.6},
{"x":-1.9,"y":1.25},{"x":-1.78,"y":1.1},{"x":-1.75,"y":0.95},{"x":-1.62,"y":1.25},{"x":-1.6,"y":0.8},{"x":-1.48,"y":1.2},{"x":-1.46,"y":0.95},{"x":-1.38,"y":0.62},{"x":-1.36,"y":1.28},{"x":-1.28,"y":0.95},{"x":-1.26,"y":0.7},{"x":-1.2,"y":1.28},{"x":-1.18,"y":0.6},{"x":-1.12,"y":0.88},{"x":-1.08,"y":1.25},{"x":-1.02,"y":0.82},{"x":-1.0,"y":1.15},{"x":-0.98,"y":0.58},{"x":-0.94,"y":0.8},{"x":-0.9,"y":1.02},{"x":-0.86,"y":0.68},{"x":-0.84,"y":1.15},{"x":-0.8,"y":0.52},{"x":-0.78,"y":0.88},{"x":-0.74,"y":1.05},{"x":-0.72,"y":0.38},{"x":-0.7,"y":0.68},{"x":-0.66,"y":1.02},{"x":-0.64,"y":0.55},{"x":-0.62,"y":0.82},{"x":-0.58,"y":0.4},{"x":-0.56,"y":1.1},{"x":-0.54,"y":0.7},{"x":-0.5,"y":0.9},{"x":-0.48,"y":0.5},{"x":-0.46,"y":0.28},{"x":-0.44,"y":1.02},{"x":-0.42,"y":0.75},{"x":-0.38,"y":0.4},{"x":-0.36,"y":0.85},{"x":-0.34,"y":0.6},{"x":-0.3,"y":0.5},{"x":-0.28,"y":0.92},{"x":-0.26,"y":0.3},{"x":-0.24,"y":0.7},{"x":-0.22,"y":0.42},{"x":-0.18,"y":0.55},{"x":-0.14,"y":0.35},{"x":-0.12,"y":0.25},{"x":-0.1,"y":0.48},{"x":-0.06,"y":0.3},{"x":-0.04,"y":0.18},{"x":-0.3,"y":0.08},{"x":-0.2,"y":0.05},{"x":-0.4,"y":0.12},{"x":-0.52,"y":0.22},{"x":-0.62,"y":0.35},{"x":-0.82,"y":0.35},{"x":-0.92,"y":0.5},{"x":-1.1,"y":0.45},{"x":-1.25,"y":0.52},{"x":-1.4,"y":0.88},{"x":-1.55,"y":0.65},
{"x":3.25,"y":4.97},{"x":3.0,"y":4.76},{"x":3.74,"y":4.71},{"x":3.8,"y":4.69},{"x":1.28,"y":4.39},{"x":2.07,"y":4.32},{"x":1.93,"y":4.2},{"x":2.82,"y":4.13},{"x":3.6,"y":4.06},{"x":1.18,"y":3.95},{"x":1.61,"y":3.87},{"x":1.69,"y":3.82},{"x":1.77,"y":3.86},{"x":2.18,"y":3.87},{"x":2.18,"y":3.79},{"x":2.51,"y":3.99},{"x":3.53,"y":3.81},{"x":1.28,"y":3.82},{"x":2.64,"y":3.69},{"x":3.18,"y":3.7},{"x":4.27,"y":3.61},{"x":1.26,"y":3.59},{"x":1.47,"y":3.51},{"x":2.01,"y":3.49},{"x":2.04,"y":3.44},{"x":2.48,"y":3.52},{"x":3.06,"y":3.5},{"x":3.08,"y":3.43},{"x":2.96,"y":3.37},{"x":1.62,"y":3.32},{"x":1.91,"y":3.36},{"x":2.42,"y":3.25},{"x":2.71,"y":3.28},{"x":2.69,"y":3.26},{"x":3.43,"y":3.31},{"x":4.99,"y":3.37},{"x":4.95,"y":3.32},{"x":1.14,"y":3.28},{"x":4.05,"y":3.13},{"x":4.8,"y":3.13},{"x":1.6,"y":3.12},{"x":1.94,"y":3.19},{"x":2.14,"y":3.21},{"x":2.97,"y":3.22},{"x":3.06,"y":3.01},{"x":1.54,"y":2.97},{"x":1.67,"y":2.96},{"x":2.15,"y":3.01},{"x":2.45,"y":2.92},{"x":2.58,"y":2.95},{"x":2.69,"y":2.94},{"x":2.16,"y":2.86},{"x":3.57,"y":2.83},{"x":1.14,"y":2.83},{"x":1.2,"y":2.73},{"x":1.57,"y":2.71},{"x":1.88,"y":2.73},{"x":2.25,"y":2.7},{"x":2.28,"y":2.68},{"x":3.29,"y":2.63},{"x":4.17,"y":2.6},{"x":1.38,"y":2.59},{"x":1.48,"y":2.56},{"x":1.59,"y":2.52},{"x":1.72,"y":2.54},{"x":1.83,"y":2.51},{"x":3.31,"y":2.47},{"x":3.49,"y":2.47},{"x":1.65,"y":2.43},{"x":1.81,"y":2.38},{"x":1.92,"y":2.35},{"x":2.05,"y":2.31},{"x":2.18,"y":2.32},{"x":2.35,"y":2.29},{"x":2.48,"y":2.32},{"x":2.66,"y":2.37},{"x":3.33,"y":2.31},{"x":1.23,"y":2.38},{"x":1.21,"y":2.19},{"x":1.3,"y":2.1},{"x":1.38,"y":2.04},{"x":1.53,"y":1.97},{"x":1.7,"y":2.04},{"x":1.89,"y":2.1},{"x":2.01,"y":2.21},{"x":2.07,"y":2.24},{"x":2.2,"y":2.17},{"x":2.41,"y":2.14},{"x":2.47,"y":2.05},{"x":2.91,"y":1.99},{"x":3.38,"y":2.01},{"x":1.39,"y":1.79},{"x":1.6,"y":1.91},{"x":1.75,"y":1.78},{"x":1.84,"y":1.86},{"x":2.65,"y":1.84},{"x":1.19,"y":1.69},{"x":1.37,"y":1.69},{"x":1.57,"y":1.62},{"x":1.75,"y":1.62},{"x":1.8,"y":1.66},{"x":2.04,"y":1.76},{"x":2.2,"y":1.69},{"x":2.29,"y":1.55},{"x":2.73,"y":1.59},{"x":2.76,"y":1.62},{"x":1.39,"y":1.53},{"x":1.54,"y":1.5},{"x":1.7,"y":1.48},{"x":1.93,"y":1.55},{"x":2.12,"y":1.54},{"x":2.7,"y":1.48},{"x":2.96,"y":1.44},{"x":3.34,"y":1.43},{"x":3.64,"y":1.47},{"x":1.2,"y":1.41},{"x":1.33,"y":1.38},{"x":1.54,"y":1.35},{"x":1.82,"y":1.37},{"x":2.01,"y":1.35},{"x":2.62,"y":1.29},{"x":1.17,"y":1.23},{"x":1.37,"y":1.18},{"x":1.5,"y":1.26},{"x":1.6,"y":1.17},{"x":1.77,"y":1.17},{"x":1.36,"y":0.99},{"x":1.44,"y":0.98},{"x":1.64,"y":0.97},{"x":1.21,"y":0.79},{"x":1.3,"y":0.69},{"x":1.54,"y":0.72},{"x":1.87,"y":0.68},{"x":2.0,"y":0.63},{"x":2.18,"y":0.74},{"x":2.29,"y":0.86},{"x":2.45,"y":0.78},{"x":2.89,"y":0.89},{"x":3.49,"y":0.55},{"x":1.3,"y":0.48},{"x":1.17,"y":0.52},
{"x":1.06,"y":3.64},{"x":0.99,"y":3.62},{"x":0.99,"y":3.5},{"x":0.61,"y":3.58},{"x":0.79,"y":3.5},{"x":0.8,"y":3.43},{"x":0.73,"y":3.26},{"x":0.54,"y":3.08},{"x":0.95,"y":3.17},{"x":0.89,"y":3.28},{"x":0.34,"y":3.0},{"x":0.52,"y":2.86},{"x":0.63,"y":2.79},{"x":0.48,"y":2.68},{"x":0.36,"y":2.68},{"x":0.62,"y":2.55},{"x":0.77,"y":2.52},{"x":0.9,"y":2.88},{"x":0.93,"y":2.67},{"x":1.02,"y":2.71},{"x":0.31,"y":2.46},{"x":0.54,"y":2.32},{"x":0.37,"y":2.19},{"x":0.5,"y":2.21},{"x":0.62,"y":2.24},{"x":0.71,"y":2.14},{"x":0.81,"y":2.07},{"x":0.89,"y":2.1},{"x":0.95,"y":2.04},{"x":0.6,"y":2.0},{"x":0.68,"y":1.93},{"x":0.76,"y":1.86},{"x":0.85,"y":1.79},{"x":0.93,"y":1.9},{"x":0.39,"y":1.66},{"x":0.46,"y":1.69},{"x":0.56,"y":1.62},{"x":0.66,"y":1.69},{"x":0.73,"y":1.59},{"x":0.83,"y":1.69},{"x":0.96,"y":1.55},{"x":0.27,"y":1.52},{"x":0.35,"y":1.35},{"x":0.46,"y":1.48},{"x":0.58,"y":1.41},{"x":0.69,"y":1.45},{"x":0.79,"y":1.35},{"x":0.91,"y":1.41},{"x":1.0,"y":1.27},
{"x":0.25,"y":1.25},{"x":0.35,"y":1.2},{"x":0.45,"y":1.22},{"x":0.55,"y":1.18},{"x":0.65,"y":1.25},{"x":0.75,"y":1.2},{"x":0.85,"y":1.15},{"x":0.95,"y":1.22},{"x":0.2,"y":1.1},{"x":0.3,"y":1.05},{"x":0.4,"y":1.12},{"x":0.5,"y":1.04},{"x":0.6,"y":1.1},{"x":0.7,"y":1.02},{"x":0.8,"y":1.08},{"x":0.92,"y":1.0},{"x":0.18,"y":0.95},{"x":0.28,"y":0.9},{"x":0.38,"y":0.96},{"x":0.48,"y":0.88},{"x":0.58,"y":0.93},{"x":0.68,"y":0.86},{"x":0.78,"y":0.9},{"x":0.88,"y":0.84},{"x":0.98,"y":0.9},{"x":0.15,"y":0.8},{"x":0.24,"y":0.76},{"x":0.33,"y":0.82},{"x":0.43,"y":0.74},{"x":0.53,"y":0.78},{"x":0.63,"y":0.72},{"x":0.74,"y":0.76},{"x":0.85,"y":0.7},{"x":0.12,"y":0.65},{"x":0.2,"y":0.62},{"x":0.28,"y":0.68},{"x":0.37,"y":0.6},{"x":0.46,"y":0.64},{"x":0.56,"y":0.58},{"x":0.66,"y":0.62},{"x":0.78,"y":0.56},{"x":0.1,"y":0.52},{"x":0.17,"y":0.48},{"x":0.25,"y":0.54},{"x":0.33,"y":0.46},{"x":0.42,"y":0.5},{"x":0.52,"y":0.44},{"x":0.62,"y":0.47},{"x":0.08,"y":0.4},{"x":0.14,"y":0.36},{"x":0.21,"y":0.4},{"x":0.29,"y":0.34},{"x":0.37,"y":0.38},{"x":0.46,"y":0.32},{"x":0.06,"y":0.28},{"x":0.12,"y":0.24},{"x":0.18,"y":0.28},{"x":0.25,"y":0.22},{"x":0.33,"y":0.26},{"x":0.04,"y":0.16},{"x":0.09,"y":0.13},{"x":0.15,"y":0.17},{"x":0.21,"y":0.12},{"x":0.02,"y":0.06},{"x":0.07,"y":0.04},{"x":0.12,"y":0.07},{"x":0.17,"y":0.05},
{"x":0.05,"y":0.1},{"x":0.1,"y":0.2},{"x":0.16,"y":0.08},{"x":0.22,"y":0.18},{"x":0.28,"y":0.3},{"x":0.35,"y":0.15},{"x":0.4,"y":0.28},{"x":0.48,"y":0.4},{"x":0.55,"y":0.3},{"x":0.6,"y":0.5},{"x":0.7,"y":0.45},{"x":0.75,"y":0.62},{"x":0.85,"y":0.55},{"x":0.92,"y":0.75},{"x":1.02,"y":0.62},{"x":1.08,"y":0.85},{"x":1.1,"y":1.05},{"x":1.05,"y":1.2},{"x":0.98,"y":0.45},{"x":0.88,"y":0.4},{"x":0.78,"y":0.3},{"x":0.66,"y":0.3},{"x":0.5,"y":0.18},{"x":0.42,"y":0.55},{"x":0.32,"y":0.58},{"x":0.22,"y":0.5},{"x":0.15,"y":0.55},{"x":0.2,"y":0.72},{"x":0.3,"y":0.85},{"x":0.4,"y":0.82},{"x":0.5,"y":0.95},{"x":0.62,"y":0.8},{"x":0.72,"y":1.12},{"x":0.82,"y":1.25},{"x":0.9,"y":1.1},{"x":1.15,"y":0.68},{"x":1.2,"y":0.95},{"x":1.25,"y":1.1},{"x":1.28,"y":0.6},{"x":1.12,"y":0.42},
{"x":0.03,"y":0.08},{"x":0.08,"y":0.15},{"x":0.12,"y":0.3},{"x":0.18,"y":0.2},{"x":0.24,"y":0.35},{"x":0.3,"y":0.42},{"x":0.36,"y":0.5},{"x":0.42,"y":0.65},{"x":0.48,"y":0.72},{"x":0.55,"y":0.85},{"x":0.62,"y":0.95},{"x":0.7,"y":0.62},{"x":0.8,"y":0.8},{"x":0.86,"y":0.95},{"x":0.94,"y":1.05},{"x":1.0,"y":0.85},{"x":0.26,"y":0.62},{"x":0.34,"y":0.72},{"x":0.4,"y":0.95},{"x":0.56,"y":1.12},{"x":0.66,"y":1.05},{"x":0.78,"y":1.15},{"x":0.9,"y":1.28},{"x":1.06,"y":0.95},{"x":1.14,"y":1.25},{"x":0.13,"y":0.45},{"x":0.2,"y":0.85},{"x":0.28,"y":1.0},{"x":0.24,"y":1.18},{"x":0.35,"y":1.28}
]
},
"spacing": 141,
"bounds": "flush",
"hconcat": [
{
"width": 433, "height": 290,
"layer": [
{"data": {"name": "c91"}, "mark": {"type": "circle", "size": 8, "color": "black", "opacity": 1},
 "encoding": {
  "x": {"field": "x", "type": "quantitative", "scale": {"domain": [-5, 5], "nice": false}, "axis": {"values": [-5,-4,-3,-2,-1,0,1,2,3,4,5], "title": "Log2 (LFQ Fold Change)", "labelExpr": "datum.value + ''"}},
  "y": {"field": "y", "type": "quantitative", "scale": {"domain": [0, 6], "nice": false}, "axis": {"values": [0,2,4,6], "title": "-Log10 (p value)"}}}},
{"data": {"values": [{}]}, "mark": {"type": "rule", "strokeDash": [5, 3], "strokeWidth": 1.3, "color": "black"}, "encoding": {"x": {"datum": -1, "type": "quantitative"}}},
{"data": {"values": [{}]}, "mark": {"type": "rule", "strokeDash": [5, 3], "strokeWidth": 1.3, "color": "black"}, "encoding": {"x": {"datum": 1, "type": "quantitative"}}},
{"data": {"values": [{}]}, "mark": {"type": "rule", "strokeDash": [5, 3], "strokeWidth": 1.3, "color": "black"}, "encoding": {"y": {"datum": 1.3, "type": "quantitative"}}},
{"data": {"name": "hl1"}, "mark": {"type": "rule", "color": "#e8262b", "strokeWidth": 1.5}, "encoding": {"x": {"field": "x", "type": "quantitative"}, "y": {"field": "y", "type": "quantitative"}, "x2": {"datum": 3.08}, "y2": {"datum": 2.21}}},
{"data": {"name": "hl1"}, "mark": {"type": "circle", "size": 110, "color": "#e8262b", "opacity": 1}, "encoding": {"x": {"field": "x", "type": "quantitative"}, "y": {"field": "y", "type": "quantitative"}}},
{"data": {"name": "hl1"}, "mark": {"type": "text", "align": "left", "baseline": "alphabetic", "fontSize": 23, "fontWeight": "bold", "color": "#e8262b"}, "encoding": {"x": {"datum": 3.2, "type": "quantitative"}, "y": {"datum": 1.92, "type": "quantitative"}, "text": {"field": "gene"}}},
{"data": {"values": [{}]}, "mark": {"type": "text", "text": "C9-1", "align": "left", "baseline": "alphabetic", "fontSize": 20, "dx": -117.5, "dy": -9.3, "color": "black"}, "encoding": {"x": {"datum": 0, "type": "quantitative"}, "y": {"datum": 6, "type": "quantitative"}}},
{"data": {"values": [{}]}, "mark": {"type": "text", "text": "Arsenite", "align": "left", "baseline": "alphabetic", "fontSize": 15, "dx": -71, "dy": -2, "color": "black"}, "encoding": {"x": {"datum": 0, "type": "quantitative"}, "y": {"datum": 6, "type": "quantitative"}}},
{"data": {"values": [{}]}, "mark": {"type": "text", "text": "vs", "align": "left", "baseline": "alphabetic", "fontSize": 20, "dx": -7.5, "dy": -9.3, "color": "black"}, "encoding": {"x": {"datum": 0, "type": "quantitative"}, "y": {"datum": 6, "type": "quantitative"}}},
{"data": {"values": [{}]}, "mark": {"type": "text", "text": "Control", "align": "left", "baseline": "alphabetic", "fontSize": 20, "dx": 23.5, "dy": -9.3, "color": "black"}, "encoding": {"x": {"datum": 0, "type": "quantitative"}, "y": {"datum": 6, "type": "quantitative"}}},
{"data": {"values": [{}]}, "mark": {"type": "text", "text": "Arsenite", "align": "left", "baseline": "alphabetic", "fontSize": 15, "dx": 89.5, "dy": -2, "color": "black"}, "encoding": {"x": {"datum": 0, "type": "quantitative"}, "y": {"datum": 6, "type": "quantitative"}}},
{"data": {"values": [{}]}, "mark": {"type": "text", "text": "(B)", "align": "left", "baseline": "alphabetic", "fontSize": 22, "fontWeight": "bold", "dx": -102, "dy": -13.5, "color": "black"}, "encoding": {"x": {"datum": -5, "type": "quantitative"}, "y": {"datum": 6, "type": "quantitative"}}}
]
},
{
"width": 433, "height": 290,
"layer": [
{"data": {"name": "c92"}, "mark": {"type": "circle", "size": 8, "color": "black", "opacity": 1},
 "encoding": {
  "x": {"field": "x", "type": "quantitative", "scale": {"domain": [-5, 5], "nice": false}, "axis": {"values": [-5,-4,-3,-2,-1,0,1,2,3,4,5], "title": "Log2 (LFQ Fold Change)", "labelExpr": "datum.value + ''"}},
  "y": {"field": "y", "type": "quantitative", "scale": {"domain": [0, 6], "nice": false}, "axis": {"values": [0,2,4,6], "title": "-Log10 (p value)"}}}},
{"data": {"values": [{}]}, "mark": {"type": "rule", "strokeDash": [5, 3], "strokeWidth": 1.3, "color": "black"}, "encoding": {"x": {"datum": -1, "type": "quantitative"}}},
{"data": {"values": [{}]}, "mark": {"type": "rule", "strokeDash": [5, 3], "strokeWidth": 1.3, "color": "black"}, "encoding": {"x": {"datum": 1, "type": "quantitative"}}},
{"data": {"values": [{}]}, "mark": {"type": "rule", "strokeDash": [5, 3], "strokeWidth": 1.3, "color": "black"}, "encoding": {"y": {"datum": 1.3, "type": "quantitative"}}},
{"data": {"name": "hl2"}, "mark": {"type": "rule", "color": "#e8262b", "strokeWidth": 1.5}, "encoding": {"x": {"field": "x", "type": "quantitative"}, "y": {"field": "y", "type": "quantitative"}, "x2": {"datum": 3.07}, "y2": {"datum": 2.41}}},
{"data": {"name": "hl2"}, "mark": {"type": "circle", "size": 110, "color": "#e8262b", "opacity": 1}, "encoding": {"x": {"field": "x", "type": "quantitative"}, "y": {"field": "y", "type": "quantitative"}}},
{"data": {"name": "hl2"}, "mark": {"type": "text", "align": "left", "baseline": "alphabetic", "fontSize": 23, "fontWeight": "bold", "color": "#e8262b"}, "encoding": {"x": {"datum": 3.03, "type": "quantitative"}, "y": {"datum": 1.99, "type": "quantitative"}, "text": {"field": "gene"}}},
{"data": {"values": [{}]}, "mark": {"type": "text", "text": "C9-2", "align": "left", "baseline": "alphabetic", "fontSize": 20, "dx": -131, "dy": -9.8, "color": "black"}, "encoding": {"x": {"datum": 0, "type": "quantitative"}, "y": {"datum": 6, "type": "quantitative"}}},
{"data": {"values": [{}]}, "mark": {"type": "text", "text": "Arsenite", "align": "left", "baseline": "alphabetic", "fontSize": 15, "dx": -84.5, "dy": -2.5, "color": "black"}, "encoding": {"x": {"datum": 0, "type": "quantitative"}, "y": {"datum": 6, "type": "quantitative"}}},
{"data": {"values": [{}]}, "mark": {"type": "text", "text": "vs", "align": "left", "baseline": "alphabetic", "fontSize": 20, "dx": -23.5, "dy": -9.8, "color": "black"}, "encoding": {"x": {"datum": 0, "type": "quantitative"}, "y": {"datum": 6, "type": "quantitative"}}},
{"data": {"values": [{}]}, "mark": {"type": "text", "text": "Control", "align": "left", "baseline": "alphabetic", "fontSize": 20, "dx": 7, "dy": -9.8, "color": "black"}, "encoding": {"x": {"datum": 0, "type": "quantitative"}, "y": {"datum": 6, "type": "quantitative"}}},
{"data": {"values": [{}]}, "mark": {"type": "text", "text": "Arsenite", "align": "left", "baseline": "alphabetic", "fontSize": 15, "dx": 74, "dy": -2.5, "color": "black"}, "encoding": {"x": {"datum": 0, "type": "quantitative"}, "y": {"datum": 6, "type": "quantitative"}}}
]
}
]
}
